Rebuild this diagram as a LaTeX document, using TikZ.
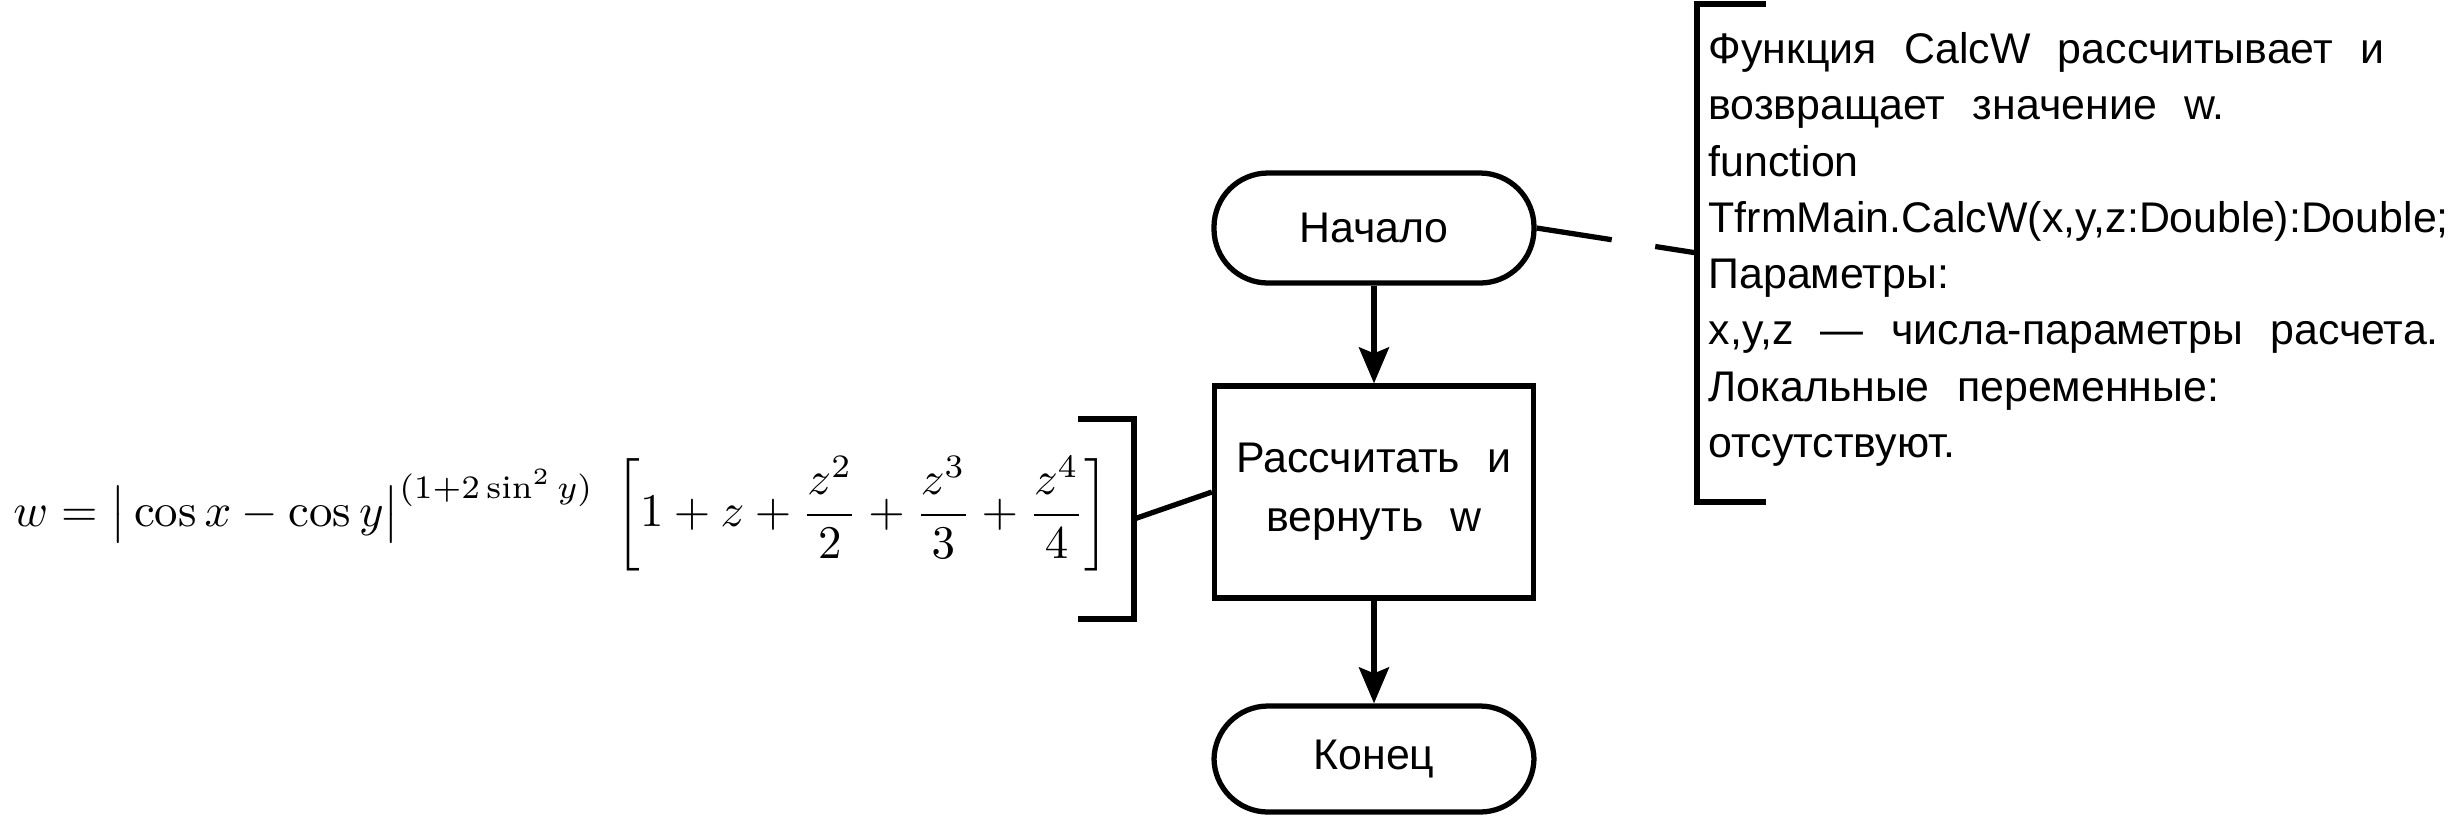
\documentclass[tikz,border=0pt]{standalone}
\usepackage{fontspec}
\usepackage{graphicx}
\newfontfamily\gost[WordSpace=2.3]{Liberation Sans}
\usetikzlibrary{arrows.meta}
\begin{document}
\begin{tikzpicture}[x=0.1mm,y=-0.1mm,
  line width=1.5pt,
  term/.style={draw, rounded corners=5.4mm, minimum width=32mm, minimum height=11mm, inner sep=0pt, font=\gost\fontsize{12.2}{16}\selectfont},
  procbox/.style={draw, minimum width=31.9mm, minimum height=21.2mm, inner sep=0pt, align=center, font=\gost\fontsize{12.2}{16.8}\selectfont},
  flow/.style={-{Stealth[length=3.6mm,width=3mm,inset=0.6mm]}},
  notetext/.style={inner sep=0pt, align=left, font=\gost\fontsize{12.2}{16}\selectfont},
]
\useasboundingbox (0,0) rectangle (2450,815);

\node[term] (start) at (1374,228) {Начало};
\node[procbox] (proc) at (1374,492) {Рассчитать и\\вернуть w};
\node[term, minimum height=10.6mm] (stop) at (1374,759) {Конец};
\draw[flow] (start) -- (proc);
\draw[flow] (proc) -- (stop);

% formula annotation
\node[anchor=east, inner sep=0pt] (formula) at (1112,514) {\resizebox{109.6mm}{!}{$\displaystyle w=\bigl|\,\cos x-\cos y\bigr|^{(1+2\sin^2 y)}\;\left[1+z+\frac{z^2}{2}+\frac{z^3}{3}+\frac{z^4}{4}\right]$}};
\draw (1078,419) -- (1134,419) -- (1134,619) -- (1078,619);
\coordinate (fb) at (1134,519);
\draw (fb) -- (proc.west);

% comment annotation
\draw (1766,4) -- (1697,4) -- (1697,502) -- (1766,502);
\coordinate (cb) at (1697,253);
\draw[dash pattern=on 7.6mm off 4.4mm on 10mm] (start.east) -- (cb);
\node[notetext, anchor=north west] (note) at (1706,30) {Функция CalcW рассчитывает и\\возвращает значение w.\\function\\TfrmMain.CalcW(x,y,z:Double):Double;\\Параметры:\\x,y,z — числа-параметры расчета.\\Локальные переменные:\\отсутствуют.};
\end{tikzpicture}
\end{document}
